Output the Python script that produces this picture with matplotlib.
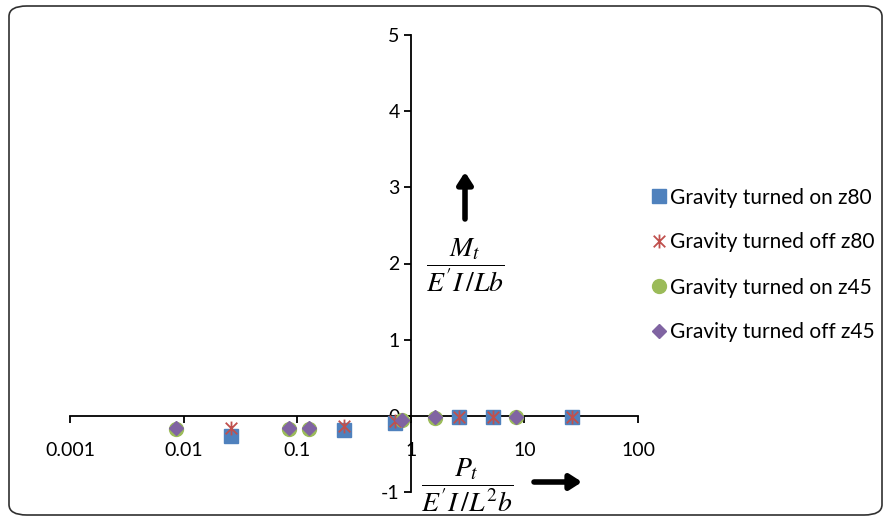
import matplotlib
matplotlib.use("Agg")
import matplotlib.pyplot as plt
from matplotlib.patches import FancyBboxPatch
from matplotlib.path import Path

# data (x is log scale)
x_z80 = [0.026, 0.26, 0.72, 2.66, 5.24, 26.5]
y_on_z80 = [-0.26, -0.19, -0.10, -0.02, -0.01, -0.01]
y_off_z80 = [-0.16, -0.14, -0.07, -0.02, -0.01, -0.01]

x_z45 = [0.0086, 0.085, 0.127, 0.83, 1.63, 8.4]
y_on_z45 = [-0.17, -0.17, -0.17, -0.06, -0.03, -0.02]
y_off_z45 = [-0.16, -0.16, -0.16, -0.05, -0.02, -0.01]

x_ticks = [0.001, 0.01, 0.1, 1, 10, 100]
x_labels = ["0.001", "0.01", "0.1", "1", "10", "100"]
y_ticks = [-1, 0, 1, 2, 3, 4, 5]

plt.rcParams['font.family'] = ['Lato', 'DejaVu Sans']
plt.rcParams['axes.unicode_minus'] = False
plt.rcParams['mathtext.fontset'] = 'stix'

W, H = 891, 521
fig = plt.figure(figsize=(W / 100, H / 100), dpi=100)
ax = fig.add_axes([70 / W, 1 - 492 / H, (638 - 70) / W, (492 - 35) / H])

# excel style asterisk marker: an X with a vertical bar
star = Path([(-1, -1), (1, 1), (-1, 1), (1, -1), (0, -1.2), (0, 1.2)],
            [Path.MOVETO, Path.LINETO, Path.MOVETO, Path.LINETO, Path.MOVETO, Path.LINETO])

ax.plot(x_z80, y_on_z80, ls="none", marker="s", ms=10.5, color="#4F81BD", mec="#4F81BD",
        label="Gravity turned on z80", clip_on=False, zorder=3)
ax.plot(x_z80, y_off_z80, ls="none", marker=star, ms=10, mew=1.3, color="#C0504D",
        label="Gravity turned off z80", clip_on=False, zorder=4)
ax.plot(x_z45, y_on_z45, ls="none", marker="o", ms=10, color="#9BBB59", mec="#9BBB59",
        label="Gravity turned on z45", clip_on=False, zorder=3)
ax.plot(x_z45, y_off_z45, ls="none", marker="D", ms=7, color="#8064A2", mec="#8064A2",
        label="Gravity turned off z45", clip_on=False, zorder=4)

ax.set_xscale("log")
ax.set_xlim(0.001, 100)
ax.set_ylim(-1, 5)
ax.set_xticks(x_ticks, x_labels)
ax.minorticks_off()
ax.set_yticks(y_ticks, [str(v) for v in y_ticks])

for s in ["top", "right"]:
    ax.spines[s].set_visible(False)
ax.spines["left"].set_position(("data", 1))
ax.spines["bottom"].set_position(("data", 0))
ax.spines["left"].set_linewidth(1.3)
ax.spines["bottom"].set_linewidth(1.3)
ax.tick_params(axis="x", direction="out", length=5, width=1.3, pad=14, labelsize=14)
ax.tick_params(axis="y", direction="out", length=5, width=1.3, pad=3, labelsize=14)
ax.patch.set_visible(False)

# axis titles as fractions, with arrows
fig.text(465 / W, 1 - 265 / H, r"$\dfrac{M_t}{E^{\prime}I\,/Lb}$", fontsize=20, ha="center", va="center")
fig.text(467 / W, 1 - 485 / H, r"$\dfrac{P_t}{E^{\prime}I\,/L^2b}$", fontsize=20, ha="center", va="center")
ax.annotate("", xy=(465, H - 172), xytext=(465, H - 219), xycoords="figure pixels",
            arrowprops=dict(arrowstyle="-|>,head_length=0.7,head_width=0.45", lw=4, color="black",
                            shrinkA=0, shrinkB=0))
ax.annotate("", xy=(582, H - 482), xytext=(534, H - 482), xycoords="figure pixels",
            arrowprops=dict(arrowstyle="-|>,head_length=0.7,head_width=0.45", lw=4, color="black",
                            shrinkA=0, shrinkB=0))

ax.legend(loc="center left", bbox_to_anchor=(642 / W, 1 - 265 / H), bbox_transform=fig.transFigure,
          frameon=False, fontsize=15, labelspacing=1.2, handlelength=0.6, handletextpad=0.25,
          borderpad=0)

# rounded chart border
fig.patches.append(FancyBboxPatch((9 / W, 6 / H), (W - 18) / W, (H - 12) / H,
                                  boxstyle="round,pad=0,rounding_size=0.02",
                                  transform=fig.transFigure, fc="none", ec="#303030", lw=1.2))

fig.savefig("out.png", dpi=100)
